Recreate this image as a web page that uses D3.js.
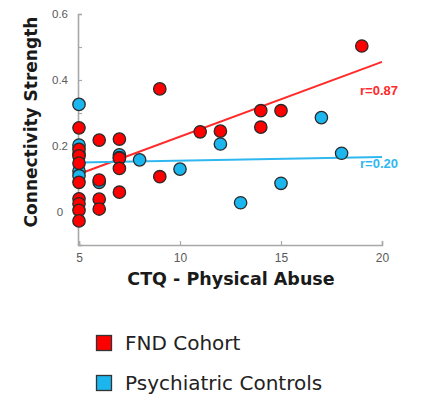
<!DOCTYPE html>
<html>
<head>
<meta charset="utf-8">
<script src="https://cdn.jsdelivr.net/npm/d3@7/dist/d3.min.js"></script>
<style>
  html, body { margin: 0; padding: 0; background: #fff; }
  svg { display: block; }
</style>
</head>
<body>
<script>
// CTQ physical abuse score vs. connectivity strength, two groups
const fndX = [5, 5, 5, 5, 5, 5, 5, 5, 5, 6, 6, 6, 6, 7, 7, 7, 7, 9, 9, 11, 12, 14, 14, 15, 19];
const fndY = [0.255, 0.19, 0.17, 0.148, 0.09, 0.04, 0.025, 0.005, -0.027,
              0.218, 0.097, 0.039, 0.009, 0.221, 0.163, 0.132, 0.06,
              0.373, 0.107, 0.243, 0.245, 0.307, 0.257, 0.307, 0.503];
const ctrlX = [5, 5, 5, 5, 5, 6, 7, 7, 8, 10, 12, 13, 15, 17, 18];
const ctrlY = [0.326, 0.203, 0.175, 0.124, 0.11, 0.09, 0.173, 0.165, 0.158,
               0.130, 0.206, 0.028, 0.087, 0.286, 0.178];

// fitted lines: value at x = 5 and x = 20
const fitX = [5, 20];
const fndFit = [0.115, 0.455];
const ctrlFit = [0.150, 0.167];
const rLabels = ["r=0.87", "r=0.20"];

const xTicks = [5, 10, 15, 20];
const yTicks = [-0.1, 0, 0.1, 0.2, 0.3, 0.4, 0.5, 0.6];
const yTickLabels = ["0", "0.2", "0.4", "0.6"];
const yLabelValues = [0, 0.2, 0.4, 0.6];

const seriesNames = ["FND Cohort", "Psychiatric Controls"];
const colors = ["#ff0000", "#1cb6ee"];
const lineColors = ["#ff2a2a", "#2fb8f0"];

const W = 425, H = 397;
const svg = d3.select("body").append("svg").attr("width", W).attr("height", H);

const x = d3.scaleLinear().domain([5, 20]).range([79, 382]);
const y = d3.scaleLinear().domain([-0.1, 0.6]).range([245, 14]);

const axisColor = "#a8a8a8";
const tickText = "#5a5a5a";

// x axis
const gx = svg.append("g").attr("transform", `translate(0,${y(-0.1)})`)
  .call(d3.axisBottom(x).tickValues(xTicks).tickSize(-4).tickPadding(8).tickFormat(d3.format("d")));
gx.select(".domain").attr("stroke", axisColor).attr("stroke-width", 1.6);
gx.selectAll(".tick line").attr("stroke", axisColor).attr("stroke-width", 1.2);
gx.selectAll(".tick text").attr("fill", tickText).attr("font-family", "Liberation Sans, Arial, sans-serif")
  .attr("font-size", 12);

// y axis
const gy = svg.append("g").attr("transform", `translate(${x(5) - 1},0)`)
  .call(d3.axisLeft(y).tickValues(yTicks).tickSize(-4).tickFormat(""));
gy.select(".domain").attr("stroke", axisColor).attr("stroke-width", 1.6);
gy.selectAll(".tick line").attr("stroke", axisColor).attr("stroke-width", 1.2);

svg.append("g").selectAll("text").data(yLabelValues).join("text")
  .attr("x", 60).attr("y", d => y(d) + 4)
  .attr("text-anchor", "middle")
  .attr("fill", tickText)
  .attr("font-family", "Liberation Sans, Arial, sans-serif")
  .attr("font-size", 11.5)
  .text((d, i) => yTickLabels[i]);

// axis titles
svg.append("text")
  .attr("x", 231).attr("y", 285)
  .attr("text-anchor", "middle")
  .attr("font-family", "DejaVu Sans, sans-serif")
  .attr("font-weight", "bold")
  .attr("font-size", 17.5)
  .attr("fill", "#1a1a1a")
  .text("CTQ - Physical Abuse");

svg.append("text")
  .attr("transform", `translate(37,122) rotate(-90)`)
  .attr("text-anchor", "middle")
  .attr("font-family", "DejaVu Sans, sans-serif")
  .attr("font-weight", "bold")
  .attr("font-size", 17)
  .attr("fill", "#1a1a1a")
  .text("Connectivity Strength");

// fitted lines
const fits = [fndFit, ctrlFit];
const line = d3.line().x((d, i) => x(fitX[i])).y(d => y(d));
fits.forEach((f, k) => {
  svg.append("path").datum(f)
    .attr("d", line)
    .attr("fill", "none")
    .attr("stroke", lineColors[k])
    .attr("stroke-width", 2);
});

// r labels
const rPos = [{ v: fndFit[1] - 0.10 }, { v: ctrlFit[1] - 0.035 }];
rLabels.forEach((t, k) => {
  svg.append("text")
    .attr("x", 360).attr("y", y(rPos[k].v))
    .attr("fill", lineColors[k])
    .attr("font-family", "Liberation Sans, Arial, sans-serif")
    .attr("font-weight", "bold")
    .attr("font-size", 13)
    .text(t);
});

// points: controls first, FND on top
function drawPoints(xs, ys, color) {
  svg.append("g").selectAll("circle").data(xs.map((d, i) => [d, ys[i]])).join("circle")
    .attr("cx", d => x(d[0]))
    .attr("cy", d => y(d[1]))
    .attr("r", 6.2)
    .attr("fill", color)
    .attr("stroke", "#2a2a2a")
    .attr("stroke-width", 1.3);
}
drawPoints(ctrlX, ctrlY, colors[1]);
drawPoints(fndX, fndY, colors[0]);

// legend
const legendY = [335, 375];
seriesNames.forEach((name, k) => {
  svg.append("rect")
    .attr("x", 96.5).attr("y", legendY[k] + 0.5)
    .attr("width", 15).attr("height", 15)
    .attr("fill", colors[k])
    .attr("stroke", "#333")
    .attr("stroke-width", 1.3);
  svg.append("text")
    .attr("x", 125).attr("y", legendY[k] + 14.5)
    .attr("font-family", "DejaVu Sans, sans-serif")
    .attr("font-size", 20)
    .attr("fill", "#222")
    .text(name);
});
</script>
</body>
</html>
